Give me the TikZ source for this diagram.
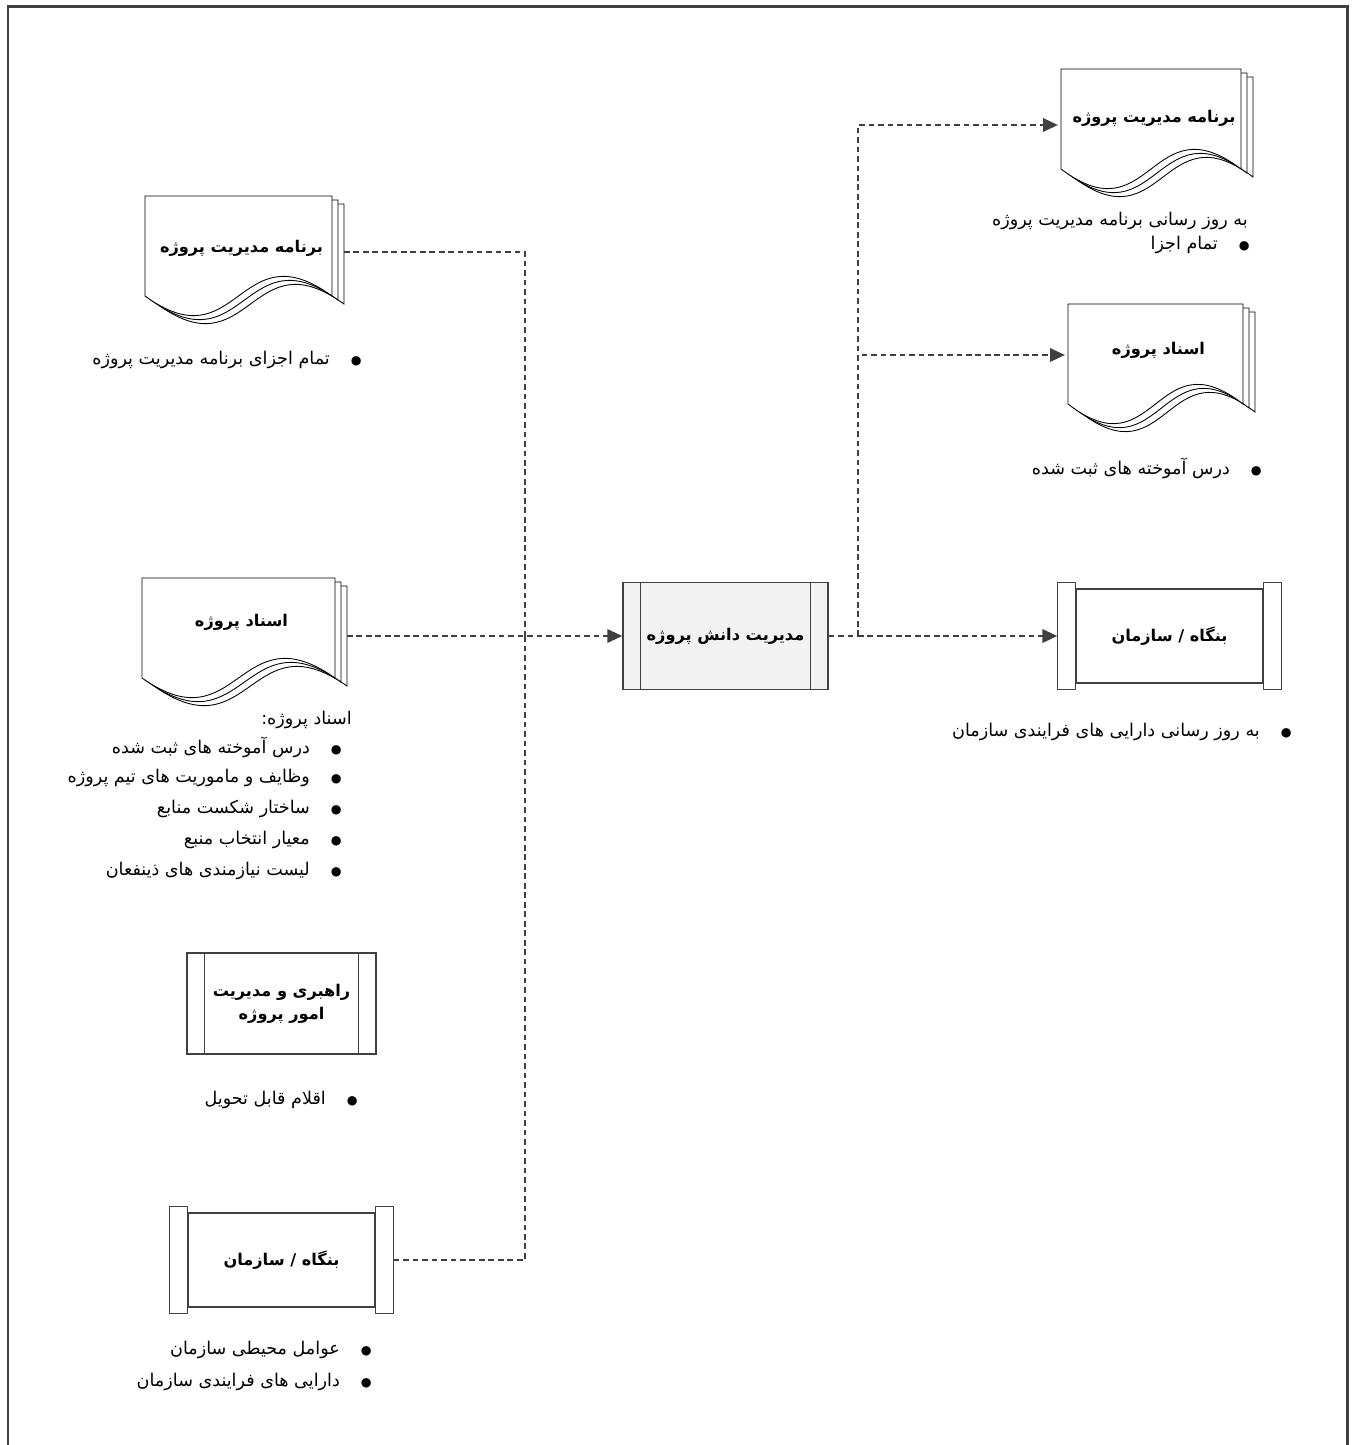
\documentclass[tikz,border=0pt]{standalone}
\usepackage{fontspec}
\newfontfamily\fafont[Script=Arabic]{DejaVu Sans}
\TeXXeTstate=1
\usetikzlibrary{arrows.meta}
\definecolor{linegray}{HTML}{404040}
\definecolor{boxgray}{HTML}{F2F2F2}
\newcommand\rl[1]{\beginR #1\endR}
\newcommand\bitem[1]{\beginR{\fontsize{7}{7}\selectfont ●}\hspace{1.2em}#1\endR}

\begin{document}
\begin{tikzpicture}[x=0.02cm, y=-0.02cm,
		flow/.style={draw=linegray, line width=1.5pt, dash pattern=on 3.2pt off 2.2pt},
		flowarrow/.style={flow, -{Triangle[length=8.5pt,width=7.5pt]}},
		page/.style={draw=black, line width=0.5pt, fill=white},
		doctitle/.style={font=\fafont\bfseries\fontsize{9.2}{13}\selectfont, inner sep=0pt, align=center},
		itemtext/.style={font=\fafont\fontsize{10}{12}\selectfont, inner sep=0pt, anchor=east},
		procbox/.style={draw=linegray, line width=0.7pt, fill=#1, doctitle,
			path picture={
				\draw[linegray, line width=0.7pt] ([xshift=0.35cm]path picture bounding box.north west) -- ([xshift=0.35cm]path picture bounding box.south west);
				\draw[linegray, line width=0.7pt] ([xshift=-0.35cm]path picture bounding box.north east) -- ([xshift=-0.35cm]path picture bounding box.south east);
			}},
		orgbox/.style={draw=linegray, line width=0.7pt, fill=white, doctitle, minimum width=3.74cm, minimum height=1.88cm},
		orgbar/.style={draw=linegray, line width=0.7pt},
		pics/docstack/.style n args={4}{code={
			\foreach \s/\t in {12/8,6/4,0/0}
				\draw[page] (\s,\t) -- (\s+#1,\t) -- (\s+#1,\t+100) .. controls (\s+0.5*#1,\t+32) and (\s+0.5*#1,\t+168) .. (\s,\t+100) -- cycle;
			\node[doctitle] (-title) at (0.5*#1+3,#2) {#4};
			\coordinate (-east) at (#1+12,#3);
			\coordinate (-west) at (-3,#3);
		}}
	]
	\useasboundingbox (0,0) rectangle (1353,1445);
	\draw[linegray, line width=1.7pt] (8,1445) -- (8,6) -- (1347,6) -- (1347,1445);

	% inputs
	\pic (plandoc) at (145,196) {docstack={187}{52}{56}{\rl{برنامه مدیریت پروژه}}};
	\node[itemtext] (planlist) at (362,360) {\bitem{تمام اجزای برنامه مدیریت پروژه}};

	\pic (docs) at (142,578) {docstack={193}{44}{58}{\rl{اسناد پروژه}}};
	\node[itemtext] (docshead) at (352,720) {\rl{اسناد پروژه:}};
	\node[itemtext] (docsa) at (342,747) {\bitem{درس آموخته های ثبت شده}};
	\node[itemtext] (docsb) at (342,778) {\bitem{وظایف و ماموریت های تیم پروژه}};
	\node[itemtext] (docsc) at (342,809) {\bitem{ساختار شکست منابع}};
	\node[itemtext] (docsd) at (342,840) {\bitem{معیار انتخاب منبع}};
	\node[itemtext] (docse) at (342,871) {\bitem{لیست نیازمندی های ذینفعان}};

	\node[procbox=white, minimum width=3.78cm, minimum height=2.02cm] (govbox) at (281.5,1003.5) {\rl{راهبری و مدیریت}\\\rl{امور پروژه}};
	\node[itemtext] (govlist) at (358,1100) {\bitem{اقلام قابل تحویل}};

	\node[orgbox] (leftorg) at (281.5,1260) {\rl{بنگاه / سازمان}};
	\draw[orgbar] ([xshift=-0.36cm,yshift=0.12cm]leftorg.north west) rectangle ([yshift=-0.12cm]leftorg.south west);
	\draw[orgbar] ([yshift=0.12cm]leftorg.north east) rectangle ([xshift=0.36cm,yshift=-0.12cm]leftorg.south east);
	\node[itemtext] (orglista) at (372,1350) {\bitem{عوامل محیطی سازمان}};
	\node[itemtext] (orglistb) at (372,1382) {\bitem{دارایی های فرایندی سازمان}};

	% process
	\node[procbox=boxgray, minimum width=4.1cm, minimum height=2.14cm] (knowbox) at (725.5,636) {\rl{مدیریت دانش پروژه}};

	% outputs
	\pic (plannew) at (1061,69) {docstack={180}{49}{56}{\rl{برنامه مدیریت پروژه}}};
	\node[itemtext] (plannewhead) at (1248,221) {\rl{به روز رسانی برنامه مدیریت پروژه}};
	\node[itemtext] (plannewlist) at (1250,245) {\bitem{تمام اجزا}};

	\pic (docsnew) at (1068,304) {docstack={175}{46}{51}{\rl{اسناد پروژه}}};
	\node[itemtext] (docsnewlist) at (1262,468) {\bitem{درس آموخته های ثبت شده}};

	\node[orgbox] (rightorg) at (1169.5,636) {\rl{بنگاه / سازمان}};
	\draw[orgbar] ([xshift=-0.36cm,yshift=0.12cm]rightorg.north west) rectangle ([yshift=-0.12cm]rightorg.south west);
	\draw[orgbar] ([yshift=0.12cm]rightorg.north east) rectangle ([xshift=0.36cm,yshift=-0.12cm]rightorg.south east);
	\node[itemtext] (orgnewlist) at (1292,732) {\bitem{به روز رسانی دارایی های فرایندی سازمان}};

	% connectors
	\coordinate (mergein) at (525,636);
	\coordinate (splitpt) at (858,636);
	\draw[flow] (plandoc-east) -| (mergein);
	\draw[flow] ([xshift=0.36cm]leftorg.east) -| (mergein);
	\draw[flowarrow] (docs-east) -- (knowbox.west);
	\draw[flow] (knowbox.east) -- (splitpt);
	\draw[flowarrow] (splitpt) |- (plannew-west);
	\draw[flowarrow] (splitpt) |- (docsnew-west);
	\draw[flowarrow] (splitpt) -- ([xshift=-0.36cm]rightorg.west);
\end{tikzpicture}
\end{document}
